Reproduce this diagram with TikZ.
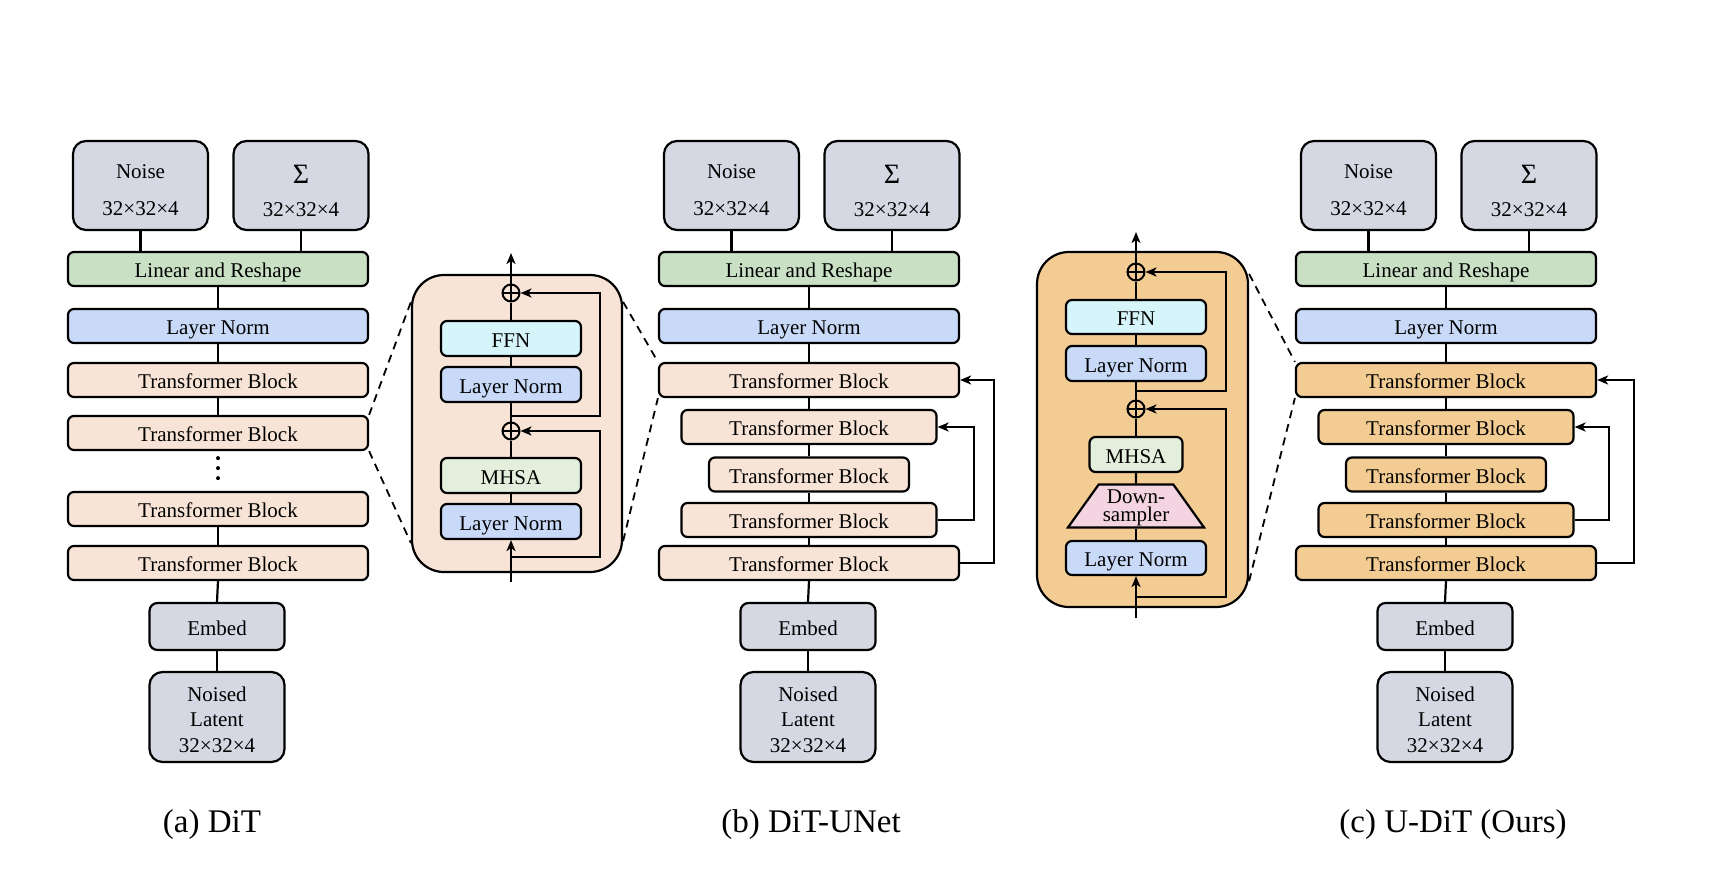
\documentclass[tikz,border=0pt]{standalone}
\usepackage{fontspec}
\setmainfont{Liberation Serif}
\usetikzlibrary{arrows.meta,shapes.geometric}

\definecolor{ioGray}{RGB}{213,215,226}
\definecolor{linGreen}{RGB}{201,224,196}
\definecolor{lnBlue}{RGB}{200,218,248}
\definecolor{tbPeach}{RGB}{248,228,214}
\definecolor{ffnCyan}{RGB}{214,245,250}
\definecolor{mhsaGreen}{RGB}{228,238,220}
\definecolor{udOrange}{RGB}{243,204,148}
\definecolor{dsPink}{RGB}{244,212,224}

\newcommand{\lift}[1]{\rule{0pt}{#1}}

\tikzset{
  blk/.style={draw, line width=1.1pt, rounded corners=3pt, inner sep=0pt,
    minimum height=17pt, text height=2.25ex, text depth=0.35ex,
    font=\fontsize{10.5}{12.6}\selectfont},
  wide/.style={blk, minimum width=150pt},
  mid/.style={blk, minimum width=127.5pt},
  narrow/.style={blk, minimum width=100pt},
  inblk/.style={blk, minimum width=70pt, minimum height=17.5pt},
  io/.style={draw, line width=1.1pt, rounded corners=6.5pt, fill=ioGray,
    inner sep=0pt, minimum width=67.5pt, minimum height=44.5pt, align=center,
    font=\fontsize{10.5}{12.6}\selectfont},
  embed/.style={io, minimum height=23.5pt, rounded corners=4pt,
    text height=2.4ex, text depth=0.35ex},
  zoombox/.style={draw, line width=1.1pt, rounded corners=16pt},
  addop/.style={circle, draw, line width=1pt, minimum size=8.5pt, inner sep=0pt,
    path picture={\draw[line width=1pt]
      (path picture bounding box.north) -- (path picture bounding box.south)
      (path picture bounding box.west) -- (path picture bounding box.east);}},
  wire/.style={line width=1.1pt},
  flow/.style={wire, -{Stealth[length=5.5pt,width=4.5pt,inset=1.5pt]}},
  skip/.style={line width=1pt, -{Stealth[length=5.5pt,width=4.5pt,inset=1.5pt]}},
  zoomline/.style={line width=0.9pt, dash pattern=on 4pt off 3pt},
  dots/.style={line width=2pt, line cap=round, dash pattern=on 0pt off 5pt},
  captext/.style={font=\fontsize{16.5}{19}\selectfont}
}

\begin{document}
\begin{tikzpicture}[x=0.5pt,y=-0.5pt]
\useasboundingbox (0,0) rectangle (1730,888);

% (a) DiT
\node[io] (noiseA) at (140.5,185.5) {\lift{12pt}Noise\\[6pt]32×32×4};
\node[io] (sigA) at (301,185.5) {\lift{15pt}{\fontsize{14}{14}\selectfont Σ}\\[4pt]32×32×4};
\node[wide,fill=linGreen] (linA) at (218,269) {Linear and Reshape};
\node[wide,fill=lnBlue] (lnA) at (218,326) {Layer Norm};
\node[wide,fill=tbPeach] (tbA1) at (218,380) {Transformer Block};
\node[wide,fill=tbPeach] (tbA2) at (218,433) {Transformer Block};
\node[wide,fill=tbPeach] (tbA3) at (218,509) {Transformer Block};
\node[wide,fill=tbPeach] (tbA4) at (218,563) {Transformer Block};
\node[embed] (embA) at (217,626.5) {Embed};
\node[io,minimum height=45pt] (latA) at (217,717) {\lift{10pt}Noised\\Latent\\32×32×4};
\draw[wire] (noiseA.south) -- (noiseA.south |- linA.north);
\draw[wire] (sigA.south) -- (sigA.south |- linA.north);
\draw[wire] (linA) -- (lnA);
\draw[wire] (lnA) -- (tbA1);
\draw[wire] (tbA1) -- (tbA2);
\draw[dots] ([yshift=-3.5pt]tbA2.south) -- ([yshift=2pt]tbA3.north);
\draw[wire] (tbA3) -- (tbA4);
\draw[wire] (tbA4.south) -- (embA.north);
\draw[wire] (embA) -- (latA);

% zoom of one DiT block
\node[zoombox,fill=tbPeach,minimum width=105pt,minimum height=148.5pt] (zoomA) at (517,423.5) {};
\node[addop] (addA1) at (511,293) {};
\node[inblk,fill=ffnCyan] (ffnA) at (511,338.5) {FFN};
\node[inblk,fill=lnBlue] (lnAu) at (511,384.5) {Layer Norm};
\node[addop] (addA2) at (511,431) {};
\node[inblk,fill=mhsaGreen] (mhsaA) at (511,475.5) {MHSA};
\node[inblk,fill=lnBlue] (lnAd) at (511,521.5) {Layer Norm};
\coordinate (outA) at (511,253);
\coordinate (inA) at (511,582);
\coordinate (tapA1) at (511,416);
\coordinate (tapA2) at (511,557);
\draw[flow] (addA1) -- (outA);
\draw[wire] (ffnA) -- (addA1);
\draw[wire] (lnAu) -- (ffnA);
\draw[wire] (addA2) -- (lnAu);
\draw[wire] (mhsaA) -- (addA2);
\draw[wire] (lnAd) -- (mhsaA);
\draw[flow] (inA) -- (lnAd);
\draw[skip] (tapA1) -- ++(89,0) |- (addA1.east);
\draw[skip] (tapA2) -- ++(89,0) |- (addA2.east);
\draw[zoomline] (tbA2.north east) -- ([yshift=-14pt]zoomA.north west);
\draw[zoomline] (tbA2.south east) -- ([yshift=15pt]zoomA.south west);

% (b) DiT-UNet
\node[io] (noiseB) at (731.5,185.5) {\lift{12pt}Noise\\[6pt]32×32×4};
\node[io] (sigB) at (892,185.5) {\lift{15pt}{\fontsize{14}{14}\selectfont Σ}\\[4pt]32×32×4};
\node[wide,fill=linGreen] (linB) at (809,269) {Linear and Reshape};
\node[wide,fill=lnBlue] (lnB) at (809,326) {Layer Norm};
\node[wide,fill=tbPeach] (tbB1) at (809,380) {Transformer Block};
\node[mid,fill=tbPeach] (tbB2) at (809,427) {Transformer Block};
\node[narrow,fill=tbPeach] (tbB3) at (809,474.5) {Transformer Block};
\node[mid,fill=tbPeach] (tbB4) at (809,520) {Transformer Block};
\node[wide,fill=tbPeach] (tbB5) at (809,563) {Transformer Block};
\node[embed] (embB) at (808,626.5) {Embed};
\node[io,minimum height=45pt] (latB) at (808,717) {\lift{10pt}Noised\\Latent\\32×32×4};
\draw[wire] (noiseB.south) -- (noiseB.south |- linB.north);
\draw[wire] (sigB.south) -- (sigB.south |- linB.north);
\draw[wire] (linB) -- (lnB);
\draw[wire] (lnB) -- (tbB1);
\draw[wire] (tbB1) -- (tbB2);
\draw[wire] (tbB2) -- (tbB3);
\draw[wire] (tbB3) -- (tbB4);
\draw[wire] (tbB4) -- (tbB5);
\draw[wire] (tbB5.south) -- (embB.north);
\draw[wire] (embB) -- (latB);
\draw[skip] (tbB5.east) -- ++(34,0) |- (tbB1.east);
\draw[skip] (tbB4.east) -- ++(36,0) |- (tbB2.east);
\draw[zoomline] ([yshift=-14pt]zoomA.north east) -- (tbB1.north west);
\draw[zoomline] ([yshift=16pt]zoomA.south east) -- (tbB1.south west);

% zoom of one U-DiT block
\node[zoombox,fill=udOrange,minimum width=105.5pt,minimum height=177.5pt] (zoomC) at (1142.5,429.5) {};
\node[addop] (addC1) at (1136,272) {};
\node[inblk,fill=ffnCyan,minimum height=17pt] (ffnC) at (1136,317) {FFN};
\node[inblk,fill=lnBlue] (lnCu) at (1136,363.5) {Layer Norm};
\node[addop] (addC2) at (1136,409) {};
\node[inblk,fill=mhsaGreen,minimum width=46.5pt] (mhsaC) at (1136,454.5) {MHSA};
\node[trapezium, trapezium angle=55.5, trapezium stretches=true, draw, line width=1.1pt,
  fill=dsPink, inner sep=0pt, minimum width=68.5pt, minimum height=21.5pt, align=center,
  font=\fontsize{10.5}{9.2}\selectfont] (dsC) at (1136,506) {\lift{8.5pt}Down-\\sampler};
\node[inblk,fill=lnBlue,minimum height=17pt] (lnCd) at (1136,558) {Layer Norm};
\coordinate (outC) at (1136,232);
\coordinate (inC) at (1136,618);
\coordinate (tapC1) at (1136,391);
\coordinate (tapC2) at (1136,597);
\draw[flow] (addC1) -- (outC);
\draw[wire] (ffnC) -- (addC1);
\draw[wire] (lnCu) -- (ffnC);
\draw[wire] (addC2) -- (lnCu);
\draw[wire] (mhsaC) -- (addC2);
\draw[wire] (dsC) -- (mhsaC);
\draw[wire] (lnCd) -- (dsC);
\draw[flow] (inC) -- (lnCd);
\draw[skip] (tapC1) -- ++(90,0) |- (addC1.east);
\draw[skip] (tapC2) -- ++(90,0) |- (addC2.east);

% (c) U-DiT
\node[io] (noiseC) at (1368.5,185.5) {\lift{12pt}Noise\\[6pt]32×32×4};
\node[io] (sigC) at (1529,185.5) {\lift{15pt}{\fontsize{14}{14}\selectfont Σ}\\[4pt]32×32×4};
\node[wide,fill=linGreen] (linC) at (1446,269) {Linear and Reshape};
\node[wide,fill=lnBlue] (lnC) at (1446,326) {Layer Norm};
\node[wide,fill=udOrange] (tbC1) at (1446,380) {Transformer Block};
\node[mid,fill=udOrange] (tbC2) at (1446,427) {Transformer Block};
\node[narrow,fill=udOrange] (tbC3) at (1446,474.5) {Transformer Block};
\node[mid,fill=udOrange] (tbC4) at (1446,520) {Transformer Block};
\node[wide,fill=udOrange] (tbC5) at (1446,563) {Transformer Block};
\node[embed] (embC) at (1445,626.5) {Embed};
\node[io,minimum height=45pt] (latC) at (1445,717) {\lift{10pt}Noised\\Latent\\32×32×4};
\draw[wire] (noiseC.south) -- (noiseC.south |- linC.north);
\draw[wire] (sigC.south) -- (sigC.south |- linC.north);
\draw[wire] (linC) -- (lnC);
\draw[wire] (lnC) -- (tbC1);
\draw[wire] (tbC1) -- (tbC2);
\draw[wire] (tbC2) -- (tbC3);
\draw[wire] (tbC3) -- (tbC4);
\draw[wire] (tbC4) -- (tbC5);
\draw[wire] (tbC5.south) -- (embC.north);
\draw[wire] (embC) -- (latC);
\draw[skip] (tbC5.east) -- ++(37,0) |- (tbC1.east);
\draw[skip] (tbC4.east) -- ++(34,0) |- (tbC2.east);
\draw[zoomline] ([yshift=-11.5pt]zoomC.north east) -- (tbC1.north west);
\draw[zoomline] ([yshift=13.5pt]zoomC.south east) -- (tbC1.south west);

% captions
\node[captext] (capA) at (212,825) {(a) DiT};
\node[captext] (capB) at (811,825) {(b) DiT-UNet};
\node[captext] (capC) at (1453,825) {(c) U-DiT (Ours)};
\end{tikzpicture}
\end{document}
